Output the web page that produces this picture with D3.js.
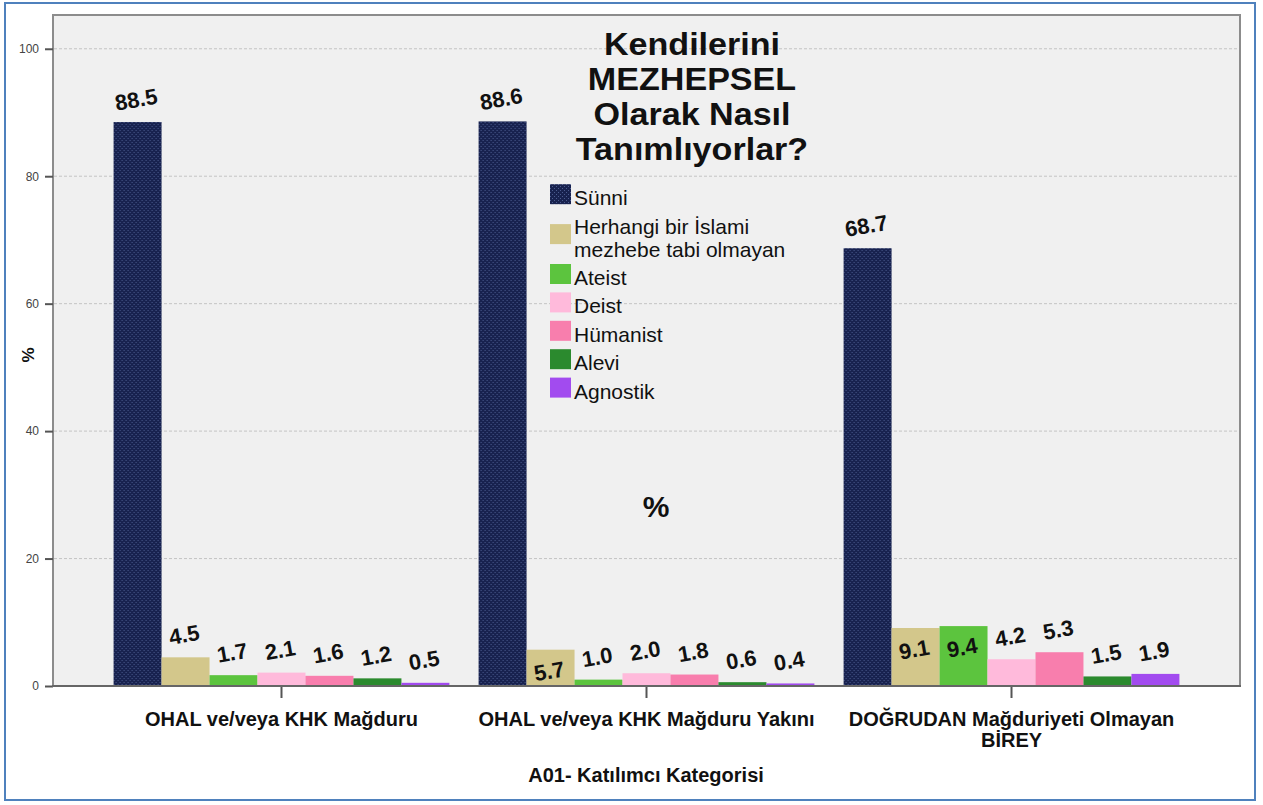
<!DOCTYPE html>
<html>
<head>
  <meta charset="utf-8">
  <title>Kendilerini MEZHEPSEL Olarak Nasıl Tanımlıyorlar?</title>
  <script src="https://d3js.org/d3.v7.min.js"></script>
  <style>
    body { margin: 0; background: #fff; }
    text { font-family: "Liberation Sans", Arial, sans-serif; }
  </style>
</head>
<body>
  <script>
    var categories = [
      "OHAL ve/veya KHK Mağduru",
      "OHAL ve/veya KHK Mağduru Yakını",
      "DOĞRUDAN Mağduriyeti Olmayan BİREY"
    ];
    // x labels as they wrap in the picture
    var categoryLines = [
      ["OHAL ve/veya KHK Mağduru"],
      ["OHAL ve/veya KHK Mağduru Yakını"],
      ["DOĞRUDAN Mağduriyeti Olmayan", "BİREY"]
    ];
    var seriesNames = ["Sünni", "Herhangi bir İslami mezhebe tabi olmayan", "Ateist", "Deist", "Hümanist", "Alevi", "Agnostik"];
    var legendLines = [
      ["Sünni"],
      ["Herhangi bir İslami", "mezhebe tabi olmayan"],
      ["Ateist"], ["Deist"], ["Hümanist"], ["Alevi"], ["Agnostik"]
    ];
    // one array per series, values in category order
    var sunni    = [88.5, 88.6, 68.7];
    var herhangi = [4.5, 5.7, 9.1];
    var ateist   = [1.7, 1.0, 9.4];
    var deist    = [2.1, 2.0, 4.2];
    var humanist = [1.6, 1.8, 5.3];
    var alevi    = [1.2, 0.6, 1.5];
    var agnostik = [0.5, 0.4, 1.9];
    var seriesValues = [sunni, herhangi, ateist, deist, humanist, alevi, agnostik];
    var yTicks = [0, 20, 40, 60, 80, 100];
    var titleLines = ["Kendilerini", "MEZHEPSEL", "Olarak Nasıl", "Tanımlıyorlar?"];

    var colors = ["url(#sunniPattern)", "#d3c78b", "#5cc43e", "#ffbadb", "#f87ead", "#2b8a2e", "#a24bef"];
    // labels SPSS pushed inside the bar (category index - series index)
    var insideLabels = { "1-1": true, "2-1": true, "2-2": true };

    var width = 1263, height = 805;
    var plot = { left: 53, top: 15, right: 1240, bottom: 686 };

    var svg = d3.select("body").append("svg")
      .attr("width", width)
      .attr("height", height);

    var defs = svg.append("defs");
    var pat = defs.append("pattern")
      .attr("id", "sunniPattern")
      .attr("patternUnits", "userSpaceOnUse")
      .attr("width", 4)
      .attr("height", 4);
    pat.append("rect").attr("width", 4).attr("height", 4).attr("fill", "#18224f");
    pat.append("rect").attr("x", 0).attr("y", 0).attr("width", 1).attr("height", 1).attr("fill", "#4b5b8e");
    pat.append("rect").attr("x", 2).attr("y", 2).attr("width", 1).attr("height", 1).attr("fill", "#4b5b8e");

    // outer blue frame
    svg.append("rect")
      .attr("x", 5).attr("y", 3)
      .attr("width", 1250).attr("height", 797)
      .attr("fill", "#fff")
      .attr("stroke", "#4f81bd")
      .attr("stroke-width", 2);

    // plot area
    svg.append("rect")
      .attr("x", plot.left).attr("y", plot.top)
      .attr("width", plot.right - plot.left)
      .attr("height", plot.bottom - plot.top)
      .attr("fill", "#f0f0f0")
      .attr("stroke", "#8c8c8c")
      .attr("stroke-width", 2);

    var x0 = d3.scaleBand()
      .domain(categories)
      .range([plot.left, plot.right])
      .paddingInner(0.08)
      .paddingOuter(0.166);
    var x1 = d3.scaleBand()
      .domain(d3.range(seriesNames.length))
      .range([0, x0.bandwidth()]);
    var y = d3.scaleLinear()
      .domain([0, 105.3])
      .range([plot.bottom, plot.top]);

    // gridlines
    svg.append("g")
      .selectAll("line")
      .data(yTicks.filter(function(d) { return d > 0; }))
      .join("line")
      .attr("x1", plot.left + 1).attr("x2", plot.right - 1)
      .attr("y1", function(d) { return y(d); })
      .attr("y2", function(d) { return y(d); })
      .attr("stroke", "#c4c4c4")
      .attr("stroke-dasharray", "3,2");

    // bars
    var groups = svg.append("g")
      .selectAll("g")
      .data(categories)
      .join("g")
      .attr("transform", function(d) { return "translate(" + x0(d) + ",0)"; });

    groups.each(function(cat, ci) {
      var g = d3.select(this);
      var rows = seriesValues.map(function(vals, si) { return { si: si, v: vals[ci] }; });
      g.selectAll("rect")
        .data(rows)
        .join("rect")
        .attr("x", function(d) { return x1(d.si); })
        .attr("width", x1.bandwidth())
        .attr("y", function(d) { return y(d.v); })
        .attr("height", function(d) { return y(0) - y(d.v); })
        .attr("fill", function(d) { return colors[d.si]; });

      g.selectAll("text")
        .data(rows)
        .join("text")
        .attr("transform", function(d) {
          var cx = x1(d.si) + x1.bandwidth() / 2;
          var ty = insideLabels[ci + "-" + d.si] ? y(d.v) + 29 : y(d.v) - 15;
          return "translate(" + cx + "," + ty + ") rotate(-10)";
        })
        .attr("text-anchor", "middle")
        .attr("font-size", 22)
        .attr("font-weight", "bold")
        .attr("fill", "#111")
        .text(function(d) { return d.v.toFixed(1); });
    });

    // y axis
    var yAxis = svg.append("g")
      .attr("transform", "translate(" + plot.left + ",0)")
      .call(d3.axisLeft(y).tickValues(yTicks).tickSize(8).tickPadding(6));
    yAxis.select(".domain").remove();
    yAxis.selectAll(".tick line").attr("stroke", "#555").attr("stroke-width", 2);
    yAxis.selectAll(".tick text")
      .attr("font-size", 12)
      .attr("fill", "#444")
      .style("font-family", "'Liberation Sans', Arial, sans-serif");

    // x axis
    var xAxis = svg.append("g")
      .attr("transform", "translate(0," + plot.bottom + ")")
      .call(d3.axisBottom(x0).tickSize(12).tickFormat(""));
    xAxis.select(".domain").remove();
    xAxis.selectAll(".tick line").attr("stroke", "#555").attr("stroke-width", 2);
    svg.append("line")
      .attr("x1", plot.left - 1).attr("x2", plot.right + 1)
      .attr("y1", plot.bottom).attr("y2", plot.bottom)
      .attr("stroke", "#666").attr("stroke-width", 2);

    svg.append("g")
      .selectAll("text")
      .data(categories)
      .join("text")
      .attr("x", function(d) { return x0(d) + x0.bandwidth() / 2; })
      .attr("y", 726)
      .attr("text-anchor", "middle")
      .attr("font-size", 20)
      .attr("font-weight", "bold")
      .attr("fill", "#111")
      .each(function(d, i) {
        var t = d3.select(this);
        categoryLines[i].forEach(function(line, li) {
          t.append("tspan")
            .attr("x", x0(d) + x0.bandwidth() / 2)
            .attr("dy", li === 0 ? 0 : 21)
            .text(line);
        });
      });

    svg.append("text")
      .attr("x", 646).attr("y", 782)
      .attr("text-anchor", "middle")
      .attr("font-size", 20)
      .attr("font-weight", "bold")
      .attr("fill", "#111")
      .text("A01- Katılımcı Kategorisi");

    svg.append("text")
      .attr("transform", "translate(34,355) rotate(-90)")
      .attr("text-anchor", "middle")
      .attr("font-size", 17)
      .attr("font-weight", "bold")
      .attr("fill", "#111")
      .text("%");

    svg.append("text")
      .attr("x", 656).attr("y", 517)
      .attr("text-anchor", "middle")
      .attr("font-size", 30)
      .attr("font-weight", "bold")
      .attr("fill", "#111")
      .text("%");

    // title: slightly narrower glyph height, stretched to the reference width
    svg.append("g")
      .attr("transform", "translate(692,0) scale(1.1,1)")
      .selectAll("text")
      .data(titleLines)
      .join("text")
      .attr("x", 0)
      .attr("y", function(d, i) { return 55 + i * 35; })
      .attr("text-anchor", "middle")
      .attr("font-size", 31)
      .attr("font-weight", "bold")
      .attr("fill", "#111")
      .text(function(d) { return d; });

    // legend
    var legend = svg.append("g").attr("transform", "translate(550,180)");
    var offset = 0;
    legendLines.forEach(function(lines, i) {
      var h = 28.4 + (lines.length - 1) * 23;
      var cy = offset + h / 2;
      legend.append("rect")
        .attr("x", 0).attr("y", cy - 10)
        .attr("width", 21).attr("height", 20)
        .attr("fill", colors[i]);
      var t = legend.append("text")
        .attr("font-size", 21)
        .attr("fill", "#111");
      lines.forEach(function(line, li) {
        t.append("tspan")
          .attr("x", 24)
          .attr("y", cy + 11 + (li - (lines.length - 1) / 2) * 23)
          .text(line);
      });
      offset += h;
    });
  </script>
</body>
</html>
